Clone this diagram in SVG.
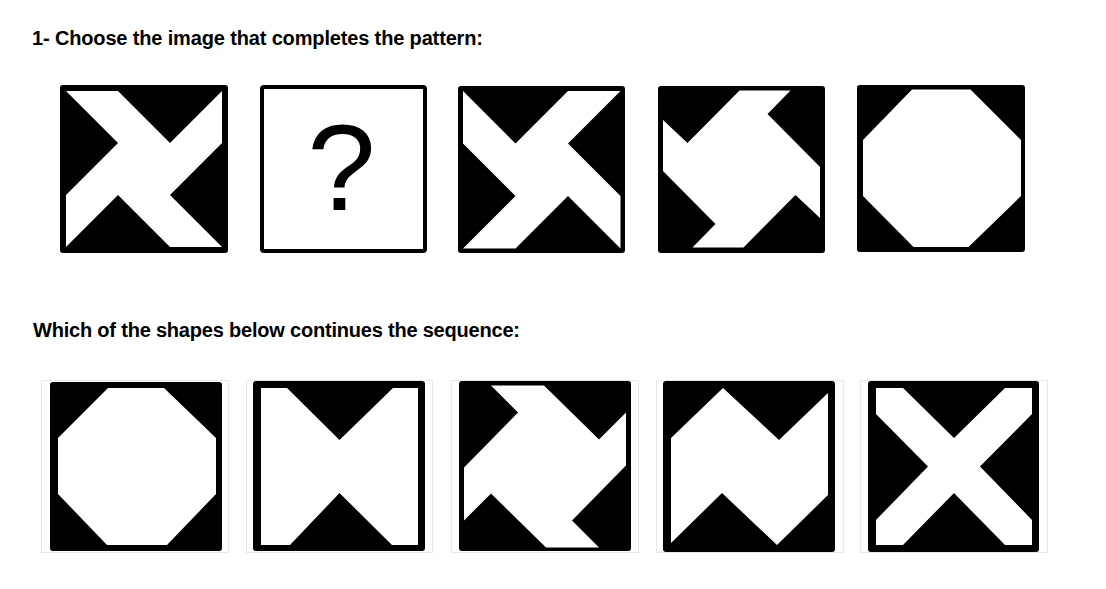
<svg xmlns="http://www.w3.org/2000/svg" width="1106" height="589" viewBox="0 0 1106 589">
<style>
.t{font-family:"Liberation Sans",Arial,sans-serif;font-weight:bold;font-size:20px;fill:#000}
.bk{fill:#000}
.wh{fill:#fff}
.fr{fill:none;stroke:#e8e8e8;stroke-width:1}
</style>
<rect width="1106" height="589" fill="#fff"/>
<text class="t" x="32" y="45" textLength="451">1- Choose the image that completes the pattern:</text>
<text class="t" x="33" y="337" textLength="487">Which of the shapes below continues the sequence:</text>

<g id="q1">
<rect class="bk" x="60" y="85" width="168" height="168" rx="3"/>
<polygon class="wh" points="66,91 118,91 170,143 222,91 222,143 170,195 222,247 170,247 118,195 66,247 66,195 118,143"/>
</g>
<g id="q2">
<rect x="262" y="87" width="163" height="164" rx="2" fill="#fff" stroke="#000" stroke-width="4"/>
<text x="341.5" y="210" font-family="Liberation Sans,Arial,sans-serif" font-size="123" text-anchor="middle" fill="#000">?</text>
</g>
<g id="q3">
<rect class="bk" x="458" y="86" width="167" height="167" rx="3"/>
<polygon class="wh" points="463,91 515.5,143.5 568,91 620.5,91 568,143.5 620.5,196 620.5,248.5 568,196 515.5,248.5 463,248.5 515.5,196 463,143.5"/>
</g>
<g id="q4">
<rect class="bk" x="658" y="86" width="167" height="167" rx="3"/>
<polygon class="wh" points="739.5,90.5 790.5,90.5 767.5,114 820,167 820,218 795.5,195 743.5,247.5 692.5,247.5 715.5,224 663,171 663,120 687.5,143"/>
</g>
<g id="q5">
<rect class="bk" x="857" y="85" width="168" height="167" rx="3"/>
<polygon class="wh" points="912,89.5 970.5,89.5 1021,140 1021,196 968.5,247 913.5,247 863,196 863,140"/>
</g>

<g id="a1">
<rect class="fr" x="41.5" y="380.5" width="187" height="172"/>
<rect class="bk" x="50" y="382" width="172" height="169" rx="3"/>
<polygon class="wh" points="108,388 164,388 216,438 216,494 167,545 107,545 58,494 58,438"/>
</g>
<g id="a2">
<rect class="fr" x="246.5" y="380.5" width="186" height="172"/>
<rect class="bk" x="253" y="381" width="172" height="170" rx="3"/>
<polygon class="wh" points="261,388 287,388 339.5,440 393,388 418,388 418,545 392,545 339.5,493 290,545 261,545"/>
</g>
<g id="a3">
<rect class="fr" x="451.5" y="380.5" width="187" height="172"/>
<rect class="bk" x="459" y="381" width="172" height="170" rx="3"/>
<polygon class="wh" points="491,385.5 544,385.5 599,439.5 626,412.5 626,465.5 572,520.5 599,547.5 546,547.5 491,493.5 464,520.5 464,467.5 518,412.5"/>
</g>
<g id="a4">
<rect class="fr" x="656.5" y="380.5" width="187" height="172"/>
<rect class="bk" x="663" y="381" width="172" height="171" rx="3"/>
<polygon class="wh" points="723,388 779,440 828,393 828,495 777,545 722,493 671,543 671,438"/>
</g>
<g id="a5">
<rect class="fr" x="860.5" y="380.5" width="187" height="172"/>
<rect class="bk" x="868" y="381" width="171" height="171" rx="3"/>
<polygon class="wh" points="876,388 903,388 954,438 1005,388 1032,388 1032,414 980,466.5 1032,520 1032,545 1005,545 954,493 903,545 876,545 876,520 928,466.5 876,414"/>
</g>
</svg>
